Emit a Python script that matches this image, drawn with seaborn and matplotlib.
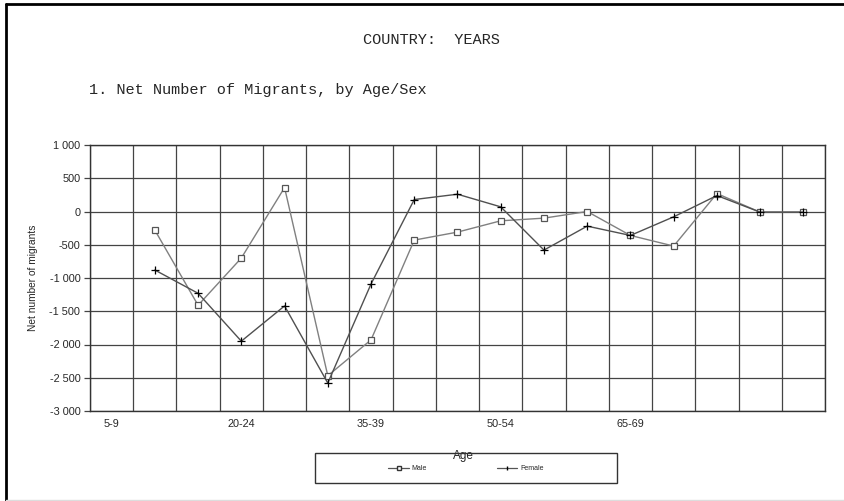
import numpy as np
import pandas as pd
import matplotlib
matplotlib.use("Agg")
import matplotlib.pyplot as plt
from matplotlib.ticker import FuncFormatter, MultipleLocator
from matplotlib.lines import Line2D
from matplotlib.patches import Rectangle
import seaborn as sns

# Data
age_groups = ["5-9", "10-14", "15-19", "20-24", "25-29", "30-34", "35-39", "40-44",
              "45-49", "50-54", "55-59", "60-64", "65-69", "70-74", "75-79", "80-84", "85+"]
tick_labels = ["5-9", "", "", "20-24", "", "", "35-39", "", "", "50-54", "", "", "65-69",
               "", "", "", ""]
male = [np.nan, -280, -1410, -700, 360, -2470, -1930, -430, -310, -140, -100, 0,
        -360, -520, 270, -10, -10]
female = [np.nan, -880, -1230, -1950, -1420, -2580, -1090, 180, 260, 70, -580, -220,
          -360, -80, 240, -10, -10]

df = pd.DataFrame({"pos": np.arange(len(age_groups)), "age": age_groups,
                   "Male": male, "Female": female})

sns.set_style("white")
plt.rcParams["font.family"] = ["Liberation Sans", "DejaVu Sans"]

fig = plt.figure(figsize=(8.45, 5.01), dpi=100)
ax = fig.add_axes([90 / 845, 1 - 411 / 501, 735 / 845, 266 / 501])

sns.lineplot(data=df, x="pos", y="Male", ax=ax, color="#808080", lw=1.0,
             marker="s", markersize=4.5, markerfacecolor="white",
             markeredgecolor="#555555", markeredgewidth=0.9, label="Male")
sns.lineplot(data=df, x="pos", y="Female", ax=ax, color="#505050", lw=1.0,
             marker="+", markersize=5.5, markeredgecolor="black",
             markeredgewidth=0.9, label="Female")

ax.set_xlim(-0.5, len(age_groups) - 0.5)
ax.set_ylim(-3000, 1000)
ax.set_xticks(np.arange(len(age_groups)))
ax.set_xticklabels(tick_labels, fontsize=7.8)
ax.set_xticks(np.arange(-0.5, len(age_groups), 1), minor=True)
ax.yaxis.set_major_locator(MultipleLocator(500))
ax.yaxis.set_major_formatter(FuncFormatter(lambda v, p: f"{int(v):,}".replace(",", " ")))
ax.tick_params(axis="y", labelsize=7.8, length=4, width=0.9, color="#444444", pad=3, left=True)
ax.tick_params(axis="x", which="both", length=0, pad=6)

ax.grid(False)
ax.grid(True, axis="y", which="major", color="#444444", lw=0.9)
ax.grid(True, axis="x", which="minor", color="#444444", lw=0.9)
for s in ax.spines.values():
    s.set_color("#333333")
    s.set_linewidth(1.0)

ax.set_xlabel("Age", fontsize=8.5, labelpad=16)
ax.set_ylabel("Net number of migrants", fontsize=7.3, labelpad=8)
ax.xaxis.set_label_coords((463 - 90) / 735, -(450 - 411) / 266)

# legend box below the chart
fig.patches.append(Rectangle((315 / 845, 1 - 483 / 501), 302 / 845, 30 / 501,
                             transform=fig.transFigure, fill=False, ec="#333333", lw=1.0))
handles = [Line2D([], [], color="#555555", lw=0.9, marker="s", markersize=3,
                  mfc="white", mec="#333333"),
           Line2D([], [], color="#555555", lw=0.9, marker="|", markersize=3,
                  mec="black")]
ax.legend(handles, ["Male", "Female"], loc="center", ncol=2, frameon=False,
          fontsize=5, handlelength=3, columnspacing=10, handletextpad=0.4,
          bbox_to_anchor=(466 / 845, 1 - 469 / 501), bbox_transform=fig.transFigure)

fig.text(431 / 845, 1 - 40 / 501, "COUNTRY:  YEARS", family="Liberation Mono",
         fontsize=11, ha="center", va="center")
fig.text(89 / 845, 1 - 90 / 501, "1. Net Number of Migrants, by Age/Sex",
         family="Liberation Mono", fontsize=11, ha="left", va="center")

# page border lines
fig.add_artist(Line2D([6 / 845, 6 / 845], [0, 1 - 4 / 501], transform=fig.transFigure,
                      color="black", lw=2))
fig.add_artist(Line2D([6 / 845, 1], [1 - 4 / 501, 1 - 4 / 501], transform=fig.transFigure,
                      color="black", lw=2))
fig.add_artist(Line2D([6 / 845, 1], [1 / 501, 1 / 501], transform=fig.transFigure,
                      color="#dddddd", lw=1))

fig.savefig("out.png", dpi=100)
